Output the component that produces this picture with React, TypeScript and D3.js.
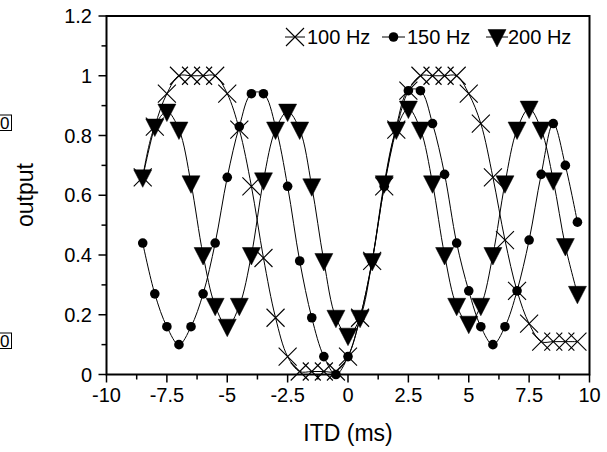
import React from "react";
import * as d3 from "d3";

const itd = [
  -8.5, -8, -7.5, -7, -6.5, -6, -5.5, -5, -4.5, -4, -3.5, -3, -2.5, -2, -1.5, -1, -0.5,
  0, 0.5, 1, 1.5, 2, 2.5, 3, 3.5, 4, 4.5, 5, 5.5, 6, 6.5, 7, 7.5, 8, 8.5, 9, 9.5,
];

const hz100 = [
  0.66, 0.83, 0.94, 1.0, 1.0, 1.0, 1.0, 0.94, 0.82, 0.63, 0.39, 0.19, 0.06, 0.01, 0.01, 0.01, 0.01,
  0.06, 0.19, 0.38, 0.63, 0.82, 0.95, 1.0, 1.0, 1.0, 1.0, 0.94, 0.84, 0.66, 0.45, 0.28, 0.17, 0.11, 0.11, 0.11, 0.11,
];

const hz150 = [
  0.44, 0.27, 0.16, 0.1, 0.16, 0.27, 0.44, 0.66, 0.83, 0.94, 0.94, 0.83, 0.63, 0.38, 0.19, 0.06, 0.0,
  0.06, 0.19, 0.38, 0.63, 0.83, 0.95, 0.95, 0.84, 0.67, 0.44, 0.28, 0.16, 0.1, 0.16, 0.28, 0.45, 0.67, 0.84, 0.7, 0.51,
];

const hz200 = [
  0.66, 0.83, 0.88, 0.82, 0.64, 0.4, 0.23, 0.16, 0.23, 0.4, 0.65, 0.82, 0.88, 0.82, 0.63, 0.38, 0.19,
  0.13, 0.19, 0.38, 0.64, 0.82, 0.89, 0.82, 0.64, 0.4, 0.23, 0.17, 0.23, 0.4, 0.64, 0.82, 0.89, 0.82, 0.65, 0.43, 0.27,
];

const xTickValues = [-10, -7.5, -5, -2.5, 0, 2.5, 5, 7.5, 10];
const xTickLabels = ["-10", "-7.5", "-5", "-2.5", "0", "2.5", "5", "7.5", "10"];
const xMinorTicks = [-8.75, -6.25, -3.75, -1.25, 1.25, 3.75, 6.25, 8.75];
const yTickValues = [0, 0.2, 0.4, 0.6, 0.8, 1.0, 1.2];
const yTickLabels = ["0", "0.2", "0.4", "0.6", "0.8", "1", "1.2"];
const yMinorTicks = [0.1, 0.3, 0.5, 0.7, 0.9, 1.1];

const legendLabels = ["100 Hz", "150 Hz", "200 Hz"];

const FONT = "'Liberation Sans', Arial, Helvetica, sans-serif";

const x = d3.scaleLinear().domain([-10, 10]).range([106.5, 589.5]);
const y = d3.scaleLinear().domain([0, 1.2]).range([374.5, 16]);

function Cross({ cx, cy, s = 9 }: { cx: number; cy: number; s?: number }) {
  return (
    <path
      d={`M${cx - s},${cy - s}L${cx + s},${cy + s}M${cx - s},${cy + s}L${cx + s},${cy - s}`}
      stroke="#000"
      strokeWidth={1.1}
      fill="none"
    />
  );
}

function Tri({ cx, cy }: { cx: number; cy: number }) {
  return (
    <path
      d={`M${cx - 9},${cy - 7.5}L${cx + 9},${cy - 7.5}L${cx},${cy + 10}Z`}
      fill="#000"
      stroke="#000"
      strokeWidth={0.5}
    />
  );
}

function Dot({ cx, cy }: { cx: number; cy: number }) {
  return <circle cx={cx} cy={cy} r={4.8} fill="#000" />;
}

export default function App() {
  const line = d3
    .line<number>()
    .x((_, i) => x(itd[i]))
    .y((d) => y(d))
    .curve(d3.curveCatmullRom.alpha(0.5));

  const series = [hz100, hz150, hz200];

  return (
    <svg
      width={607}
      height={452}
      style={{ position: "absolute", left: 0, top: 0, background: "#fff" }}
      fontFamily={FONT}
    >
      <rect x={0} y={0} width={607} height={452} fill="#fff" />

      {/* cut-off boxed labels at the left edge */}
      <rect x={-10} y={115} width={21.5} height={15.5} fill="none" stroke="#000" strokeWidth={1} />
      <text x={9.5} y={129} fontSize={17} textAnchor="end">0</text>
      <rect x={-10} y={333} width={21.5} height={15.5} fill="none" stroke="#000" strokeWidth={1} />
      <text x={9.5} y={347} fontSize={17} textAnchor="end">0</text>

      {/* curves */}
      {series.map((s, k) => (
        <path key={k} d={line(s) || ""} fill="none" stroke="#000" strokeWidth={1} />
      ))}

      {/* markers */}
      {hz150.map((v, i) => (
        <Dot key={"c" + i} cx={x(itd[i])} cy={y(v)} />
      ))}
      {hz200.map((v, i) => (
        <Tri key={"t" + i} cx={x(itd[i])} cy={y(v)} />
      ))}
      {hz100.map((v, i) => (
        <Cross key={"x" + i} cx={x(itd[i])} cy={y(v)} />
      ))}

      {/* frame */}
      <rect
        x={x(-10)}
        y={y(1.2)}
        width={x(10) - x(-10)}
        height={y(0) - y(1.2)}
        fill="none"
        stroke="#000"
        strokeWidth={2}
      />

      {/* x ticks */}
      {xTickValues.map((t, i) => (
        <g key={"xt" + i}>
          <line x1={x(t)} x2={x(t)} y1={y(0)} y2={y(0) + 8} stroke="#000" strokeWidth={1.5} />
          <text x={x(t)} y={402} fontSize={20} textAnchor="middle">
            {xTickLabels[i]}
          </text>
        </g>
      ))}
      {xMinorTicks.map((t, i) => (
        <line key={"xm" + i} x1={x(t)} x2={x(t)} y1={y(0)} y2={y(0) + 5} stroke="#000" strokeWidth={1.5} />
      ))}

      {/* y ticks */}
      {yTickValues.map((t, i) => (
        <g key={"yt" + i}>
          <line x1={x(-10) - 8} x2={x(-10)} y1={y(t)} y2={y(t)} stroke="#000" strokeWidth={1.5} />
          <text x={92} y={y(t) + 7} fontSize={20} textAnchor="end">
            {yTickLabels[i]}
          </text>
        </g>
      ))}
      {yMinorTicks.map((t, i) => (
        <line key={"ym" + i} x1={x(-10) - 5} x2={x(-10)} y1={y(t)} y2={y(t)} stroke="#000" strokeWidth={1.5} />
      ))}

      {/* axis titles */}
      <text x={348} y={441} fontSize={23} textAnchor="middle">ITD (ms)</text>
      <text
        transform="translate(33,195) rotate(-90)"
        fontSize={23}
        textAnchor="middle"
      >
        output
      </text>

      {/* legend */}
      <g>
        <line x1={285} x2={305} y1={37} y2={37} stroke="#000" strokeWidth={1} />
        <Cross cx={295} cy={37} s={9} />
        <text x={307} y={44} fontSize={20}>{legendLabels[0]}</text>
        <line x1={382} x2={405} y1={37} y2={37} stroke="#000" strokeWidth={1} />
        <Dot cx={393.5} cy={37} />
        <text x={407} y={44} fontSize={20}>{legendLabels[1]}</text>
        <line x1={486} x2={508} y1={37} y2={37} stroke="#000" strokeWidth={1} />
        <Tri cx={497} cy={37} />
        <text x={508} y={44} fontSize={20}>{legendLabels[2]}</text>
      </g>
    </svg>
  );
}
